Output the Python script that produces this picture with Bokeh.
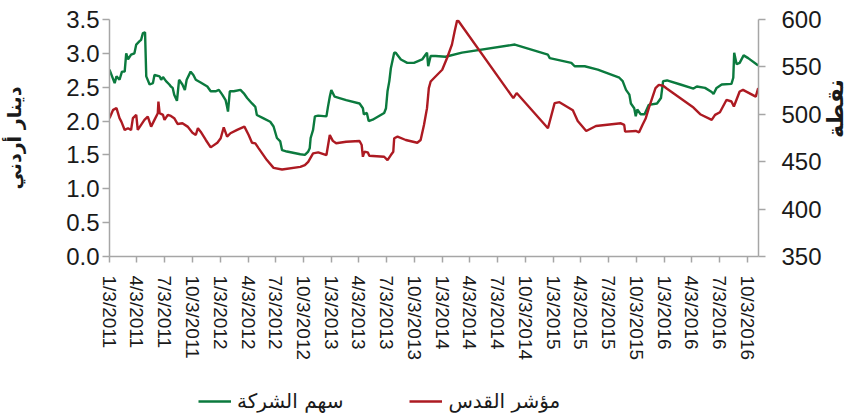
import math
import pandas as pd
from bokeh.plotting import figure
from bokeh.layouts import column
from bokeh.models import (Range1d, LinearAxis, FixedTicker, CustomJSTickFormatter,
                          NumeralTickFormatter, Legend, LegendItem)
from bokeh.embed import file_html
from bokeh.resources import INLINE

# ---- data: company share (JD, left axis) ----
share_dates = [
    "2011-01-03", "2011-01-20", "2011-01-26", "2011-02-05", "2011-02-13", "2011-02-22",
    "2011-02-27", "2011-03-05", "2011-03-15", "2011-03-26", "2011-04-01", "2011-04-12",
    "2011-04-17", "2011-04-23", "2011-04-30", "2011-05-04", "2011-05-15", "2011-05-26",
    "2011-05-31", "2011-06-17", "2011-06-22", "2011-06-28", "2011-07-08", "2011-07-19",
    "2011-07-24", "2011-07-30", "2011-08-04", "2011-08-13", "2011-08-20", "2011-08-31",
    "2011-09-08", "2011-09-14", "2011-09-27", "2011-10-06", "2011-10-14", "2011-10-30",
    "2011-11-21", "2011-12-02", "2011-12-18", "2011-12-29", "2012-01-09", "2012-01-20",
    "2012-01-25", "2012-01-28", "2012-02-03", "2012-02-16", "2012-03-09", "2012-03-20",
    "2012-03-31", "2012-04-16", "2012-04-27", "2012-05-02", "2012-05-24", "2012-06-15",
    "2012-06-26", "2012-07-07", "2012-07-18", "2012-07-24", "2012-08-09", "2012-09-22",
    "2012-10-07", "2012-10-18", "2012-10-23", "2012-10-26", "2012-11-03", "2012-11-09",
    "2012-11-20", "2012-12-17", "2012-12-22", "2012-12-28", "2013-01-02", "2013-01-13",
    "2013-01-29", "2013-02-20", "2013-04-05", "2013-04-16", "2013-04-19", "2013-04-29",
    "2013-05-05", "2013-05-18", "2013-06-25", "2013-07-01", "2013-07-06", "2013-07-12",
    "2013-07-17", "2013-07-28", "2013-08-02", "2013-08-19", "2013-09-09", "2013-10-01",
    "2013-10-28", "2013-11-08", "2013-11-13", "2013-11-17", "2013-11-25", "2013-12-11",
    "2014-01-13", "2014-03-08", "2014-08-29", "2014-12-16", "2014-12-22", "2015-03-03",
    "2015-03-14", "2015-04-16", "2015-05-29", "2015-08-08", "2015-08-19", "2015-08-30",
    "2015-09-10", "2015-09-15", "2015-09-26", "2015-10-01", "2015-10-06", "2015-10-17",
    "2015-10-30", "2015-11-13", "2015-12-10", "2015-12-23", "2015-12-30", "2016-01-12",
    "2016-02-25", "2016-04-08", "2016-04-19", "2016-05-16", "2016-06-07", "2016-06-13",
    "2016-06-23", "2016-07-10", "2016-08-11", "2016-08-17", "2016-08-20", "2016-08-28",
    "2016-09-07", "2016-09-20", "2016-10-05", "2016-11-07",
]
share_values = [
    2.76, 2.56, 2.66, 2.61, 2.73, 2.73,
    3.00, 2.91, 2.98, 3.00, 3.13, 3.18,
    3.20, 3.30, 3.31, 2.66, 2.54, 2.56,
    2.68, 2.66, 2.61, 2.65, 2.59, 2.54,
    2.51, 2.49, 2.39, 2.30, 2.61, 2.54,
    2.46, 2.61, 2.73, 2.68, 2.61, 2.57,
    2.51, 2.44, 2.44, 2.46, 2.39, 2.31,
    2.21, 2.14, 2.44, 2.44, 2.46, 2.41,
    2.34, 2.26, 2.21, 2.09, 2.04, 1.99,
    1.92, 1.75, 1.70, 1.57, 1.55, 1.51,
    1.50, 1.55, 1.60, 1.75, 1.87, 2.07,
    2.08, 2.07, 2.21, 2.36, 2.46, 2.36,
    2.34, 2.31, 2.26, 2.19, 2.10, 2.12,
    2.00, 2.02, 2.12, 2.19, 2.44, 2.59,
    2.78, 3.01, 3.01, 2.91, 2.86, 2.86,
    2.91, 2.98, 3.01, 2.81, 2.96, 2.96,
    2.95, 3.01, 3.13, 2.98, 2.93, 2.86,
    2.81, 2.81, 2.76, 2.64, 2.59, 2.46,
    2.39, 2.26, 2.19, 2.07, 2.17, 2.10,
    2.10, 2.24, 2.26, 2.34, 2.59, 2.60,
    2.54, 2.48, 2.51, 2.49, 2.43, 2.40,
    2.49, 2.54, 2.55, 2.64, 3.01, 2.84,
    2.86, 2.97, 2.93, 2.82,
]

# ---- data: Al-Quds index (points, right axis) ----
index_dates = [
    "2011-01-03", "2011-01-15", "2011-01-26", "2011-02-05", "2011-02-11", "2011-02-22",
    "2011-03-05", "2011-03-15", "2011-03-21", "2011-04-01", "2011-04-06", "2011-04-17",
    "2011-04-28", "2011-05-09", "2011-05-20", "2011-05-31", "2011-06-11", "2011-06-13",
    "2011-06-17", "2011-06-28", "2011-07-03", "2011-07-14", "2011-07-24", "2011-08-04",
    "2011-08-15", "2011-08-31", "2011-09-17", "2011-10-03", "2011-10-14", "2011-10-21",
    "2011-10-30", "2011-11-16", "2011-12-02", "2011-12-24", "2012-01-04", "2012-01-14",
    "2012-01-25", "2012-02-05", "2012-02-27", "2012-03-22", "2012-04-05", "2012-04-16",
    "2012-04-27", "2012-05-08", "2012-06-04", "2012-06-26", "2012-07-24", "2012-09-22",
    "2012-10-07", "2012-10-18", "2012-11-03", "2012-11-20", "2012-12-17", "2012-12-28",
    "2013-01-07", "2013-01-18", "2013-02-20", "2013-04-05", "2013-04-12", "2013-04-16",
    "2013-04-21", "2013-05-02", "2013-05-07", "2013-06-25", "2013-07-06", "2013-07-17",
    "2013-07-25", "2013-07-28", "2013-08-08", "2013-09-04", "2013-10-12", "2013-10-23",
    "2013-11-03", "2013-11-13", "2013-11-19", "2013-11-25", "2013-12-11", "2014-01-02",
    "2014-01-18", "2014-02-03", "2014-02-12", "2014-02-20", "2014-02-25", "2014-08-24",
    "2014-09-04", "2014-12-16", "2015-01-07", "2015-01-23", "2015-03-08", "2015-03-24",
    "2015-04-21", "2015-05-23", "2015-08-13", "2015-08-24", "2015-08-27", "2015-10-01",
    "2015-10-12", "2015-10-23", "2015-11-03", "2015-11-13", "2015-11-24", "2015-12-05",
    "2015-12-16", "2015-12-30", "2016-01-12", "2016-04-08", "2016-04-30", "2016-06-07",
    "2016-06-18", "2016-07-04", "2016-07-26", "2016-08-11", "2016-08-19", "2016-09-07",
    "2016-09-18", "2016-10-30", "2016-11-07",
]
index_values = [
    495.9, 504.7, 506.5, 495.9, 492.3, 483.5,
    485.3, 483.5, 495.9, 499.4, 483.5, 488.8,
    494.1, 497.6, 487.0, 494.1, 501.2, 513.5,
    501.2, 499.4, 494.1, 499.4, 498.3, 495.9,
    489.8, 490.5, 487.0, 480.6, 478.2, 485.3,
    481.7, 472.9, 465.1, 470.0, 474.7, 486.3,
    476.4, 480.0, 483.5, 487.0, 478.2, 470.0,
    469.4, 464.1, 451.7, 443.5, 441.8, 444.6,
    446.4, 449.9, 458.8, 459.9, 457.0, 478.2,
    472.0, 469.4, 471.1, 471.8, 467.6, 455.2,
    460.5, 459.9, 456.3, 455.2, 451.7, 457.0,
    460.5, 474.7, 476.4, 472.9, 470.0, 472.9,
    488.8, 506.5, 527.6, 534.6, 539.9, 547.0,
    559.4, 573.5, 587.6, 598.9, 598.2, 517.1,
    522.4, 485.3, 511.8, 512.8, 504.3, 493.0,
    482.4, 487.7, 490.5, 488.8, 481.7, 482.4,
    481.0, 488.8, 495.9, 506.5, 517.1, 527.6,
    531.1, 530.1, 526.9, 507.1, 500.1, 494.1,
    499.4, 502.2, 515.3, 513.5, 508.2, 524.0,
    525.8, 518.7, 527.6,
]

# ---- axes ----
tick_dates = [
    "2011-01-03", "2011-04-03", "2011-07-03", "2011-10-03",
    "2012-01-03", "2012-04-03", "2012-07-03", "2012-10-03",
    "2013-01-03", "2013-04-03", "2013-07-03", "2013-10-03",
    "2014-01-03", "2014-04-03", "2014-07-03", "2014-10-03",
    "2015-01-03", "2015-04-03", "2015-07-03", "2015-10-03",
    "2016-01-03", "2016-04-03", "2016-07-03", "2016-10-03",
]
left_ticks = [0.0, 0.5, 1.0, 1.5, 2.0, 2.5, 3.0, 3.5]
right_ticks = [350, 400, 450, 500, 550, 600]
x_start, x_end = "2011-01-03", "2016-11-08"

share_label = "سهم الشركة"
index_label = "مؤشر القدس"
left_title = "دينار أردني"
right_title = "نقطة"

GREEN = "#0B7A3E"
RED = "#AD1A22"
AXIS = "#A6A6A6"
TXT = "#1a1a1a"
NUM_FONT = "Liberation Sans"
AR_FONT = "DejaVu Sans"

W = 863
H_MAIN = 363
H_LEG = 50

sd = pd.to_datetime(share_dates)
idd = pd.to_datetime(index_dates)

p = figure(width=W, height=H_MAIN, x_axis_type="datetime",
           output_backend="svg", toolbar_location=None,
           x_range=Range1d(pd.Timestamp(x_start), pd.Timestamp(x_end)),
           y_range=Range1d(0, 3.5),
           min_border_left=109, min_border_right=101,
           min_border_top=19, min_border_bottom=107)
p.outline_line_color = None
p.xgrid.visible = False
p.ygrid.visible = False
p.background_fill_color = "white"
p.border_fill_color = "white"

p.extra_y_ranges = {"idx": Range1d(350, 600)}

g = p.line(sd, share_values, line_color=GREEN, line_width=2.4)
r = p.line(idd, index_values, line_color=RED, line_width=2.4, y_range_name="idx")

# x axis
xa = p.xaxis[0]
xa.ticker = FixedTicker(ticks=[pd.Timestamp(d).value / 1e6 for d in tick_dates])
xa.formatter = CustomJSTickFormatter(code="""
const d = new Date(tick);
return (d.getUTCMonth()+1) + "/" + d.getUTCDate() + "/" + d.getUTCFullYear();
""")
xa.major_label_orientation = "vertical"
xa.major_label_text_font = NUM_FONT
xa.major_label_text_font_size = "19px"
xa.major_label_text_color = TXT
xa.major_label_standoff = 13
xa.axis_line_color = AXIS
xa.axis_line_width = 1.5
xa.major_tick_line_color = AXIS
xa.major_tick_line_width = 1.5
xa.major_tick_in = 0
xa.major_tick_out = 6
xa.minor_tick_line_color = None

# left axis
ya = p.yaxis[0]
ya.ticker = FixedTicker(ticks=left_ticks)
ya.formatter = NumeralTickFormatter(format="0.0")
ya.major_label_text_font = NUM_FONT
ya.major_label_text_font_size = "24px"
ya.major_label_text_color = TXT
ya.major_label_standoff = 3
ya.axis_line_color = AXIS
ya.axis_line_width = 1.5
ya.major_tick_line_color = AXIS
ya.major_tick_line_width = 1.5
ya.major_tick_in = 0
ya.major_tick_out = 7
ya.minor_tick_line_color = None
ya.axis_label = left_title
ya.axis_label_text_font = AR_FONT
ya.axis_label_text_font_size = "19px"
ya.axis_label_text_font_style = "bold"
ya.axis_label_text_color = TXT
ya.axis_label_standoff = 38

# right axis
ra = LinearAxis(y_range_name="idx", ticker=FixedTicker(ticks=right_ticks))
ra.major_label_text_font = NUM_FONT
ra.major_label_text_font_size = "24px"
ra.major_label_text_color = TXT
ra.major_label_standoff = 16
ra.axis_line_color = AXIS
ra.axis_line_width = 1.5
ra.major_tick_line_color = AXIS
ra.major_tick_line_width = 1.5
ra.major_tick_in = 0
ra.major_tick_out = 7
ra.minor_tick_line_color = None
ra.axis_label = right_title
ra.axis_label_text_font = AR_FONT
ra.axis_label_text_font_size = "22px"
ra.axis_label_text_font_style = "bold"
ra.axis_label_text_color = TXT
ra.axis_label_standoff = 11
try:
    ra.axis_label_orientation = math.pi / 2
except Exception:
    pass
p.add_layout(ra, "right")

# ---- legend strip below the chart ----
q = figure(width=W, height=H_LEG, x_axis_type="datetime",
           output_backend="svg", toolbar_location=None,
           x_range=p.x_range, y_range=Range1d(10, 11),
           x_axis_location=None, y_axis_location=None,
           min_border_left=0, min_border_right=0,
           min_border_top=0, min_border_bottom=0)
q.outline_line_color = None
q.xgrid.visible = False
q.ygrid.visible = False
q.background_fill_color = "white"
q.border_fill_color = "white"
lg = q.line(sd, share_values, line_color=GREEN, line_width=2.4)
lr = q.line(idd, index_values, line_color=RED, line_width=2.4)

legend = Legend(items=[LegendItem(label=share_label, renderers=[lg]),
                       LegendItem(label=index_label, renderers=[lr])],
                orientation="horizontal", location=(89, 0))
legend.label_text_font = AR_FONT
legend.label_text_font_size = "20px"
legend.label_text_color = TXT
legend.glyph_width = 33
legend.label_standoff = 6
legend.spacing = 66
legend.padding = 2
legend.margin = 0
legend.border_line_color = None
legend.background_fill_alpha = 0
q.add_layout(legend, "center")

layout = column(p, q, spacing=0)
open("out.html", "w").write(file_html(layout, INLINE))
